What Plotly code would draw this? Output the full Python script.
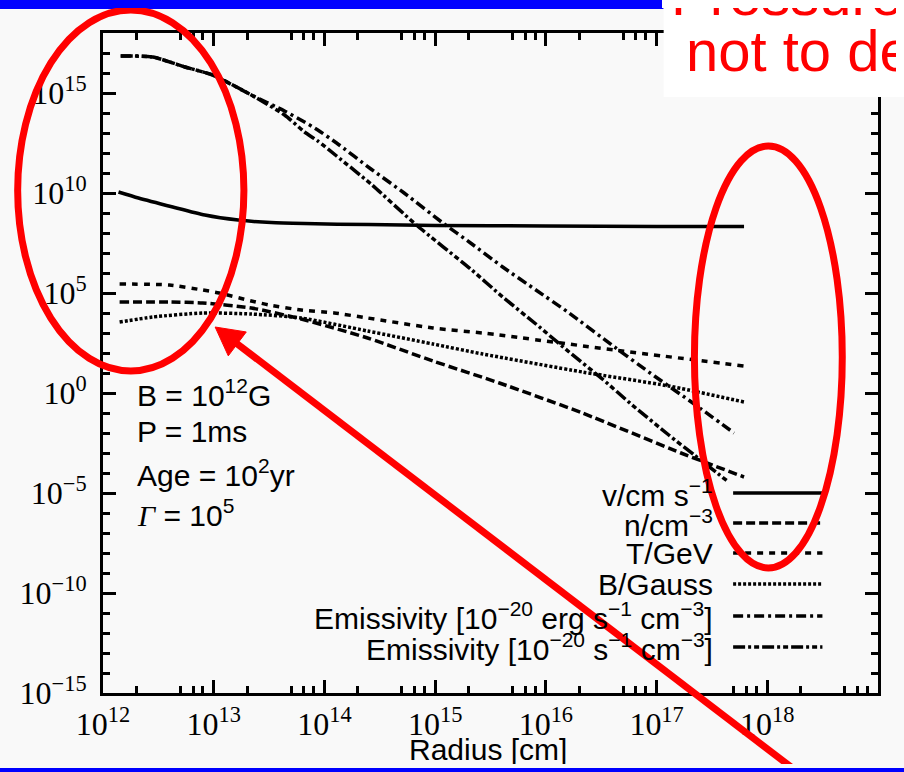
import numpy as np
import plotly.graph_objects as go

# ---------------- data (log10 values) ----------------
v_logr = [12.14, 12.32, 12.63, 12.92, 13.22, 13.52, 13.82, 14.4, 15.0, 16.0, 17.0, 17.79]
v_logy = [10.05, 9.75, 9.3, 8.9, 8.65, 8.52, 8.47, 8.42, 8.38, 8.35, 8.33, 8.33]

n_logr = [12.15, 12.6, 12.9, 13.34, 13.79, 14.39, 14.98, 15.58, 16.33, 17.22, 17.79]
n_logy = [4.55, 4.55, 4.5, 4.25, 3.7, 2.75, 1.6, 0.5, -1.0, -3.0, -4.2]

T_logr = [12.15, 12.6, 12.9, 13.05, 13.34, 13.5, 13.79, 14.09, 14.39, 14.98, 15.43, 15.58, 16.62, 17.79]
T_logy = [5.45, 5.4, 5.15, 5.0, 4.6, 4.4, 4.15, 4.0, 3.75, 3.25, 3.0, 2.9, 2.15, 1.35]

B_logr = [12.15, 12.45, 12.9, 13.34, 13.79, 14.39, 14.98, 15.43, 16.33, 17.11, 17.79]
B_logy = [3.55, 3.8, 4.0, 3.95, 3.75, 3.1, 2.45, 1.95, 1.05, 0.35, -0.45]

em_erg_logr = [12.16, 12.45, 12.74, 12.99, 13.34, 13.64, 13.82, 13.94, 14.11, 14.42, 14.72,
               15.07, 15.32, 15.61, 15.91, 16.21, 16.62, 16.98, 17.34, 17.7]
em_erg_logy = [16.85, 16.8, 16.3, 15.9, 14.9, 14.1, 13.55, 13.15, 12.5, 11.2, 10.0,
               8.5, 7.5, 6.3, 5.15, 4.0, 2.3, 0.85, -0.55, -2.0]

em_s_logr = [12.16, 12.45, 12.74, 12.99, 13.34, 13.64, 13.82, 13.94, 14.11, 14.42, 14.83,
             15.32, 15.61, 15.91, 16.21, 16.51, 16.78, 17.11, 17.34, 17.65]
em_s_logy = [16.85, 16.8, 16.3, 15.9, 14.9, 13.9, 13.05, 12.6, 11.85, 10.45, 8.4,
             6.2, 4.8, 3.45, 2.05, 0.7, -0.6, -2.1, -3.1, -4.45]

x_tick_exp = [12, 13, 14, 15, 16, 17, 18, 19]
y_tick_exp = [-15, -10, -5, 0, 5, 10, 15]

legend_labels = ["v/cm s<sup>−1</sup>", "n/cm<sup>−3</sup>", "T/GeV", "B/Gauss",
                 "Emissivity [10<sup>−20</sup> erg s<sup>−1</sup> cm<sup>−3</sup>]",
                 "Emissivity [10<sup>−20</sup> s<sup>−1</sup> cm<sup>−3</sup>]"]
legend_dashes = ["solid", "9px,4px", "6px,6px", "3px,2px", "10px,4px,3px,4px", "12px,3px,3px,3px,5px,3px"]

param_lines = ["B = 10<sup>12</sup>G", "P = 1ms", "Age = 10<sup>2</sup>yr",
               "<span style='font-family:Liberation Serif'><i>Γ</i></span> = 10<sup>5</sup>"]

# ---------------- layout geometry ----------------
# The page keeps the browser's 8px body margin, so the figure is 16px smaller than
# the 904x772 window and everything fits without overflow.  Design pixel positions
# below refer to the whole 904x772 window.
WIN_W, WIN_H, OFF = 904, 772, 8
FIG_W, FIG_H = WIN_W - 2 * OFF, WIN_H - 2 * OFF          # 888 x 756
PL, PR, PT, PB = 97, 878, 33, 693                        # plot area in window pixels
ML, MT = PL - OFF, PT - OFF
MR, MB = (OFF + FIG_W) - PR, (OFF + FIG_H) - PB
PW, PH = PR - PL, PB - PT


def X(p):
    return (p - PL) / PW


def Y(p):
    return (PB - p) / PH


SANS = "Liberation Sans, Arial, sans-serif"
SERIF = "Liberation Serif, Times New Roman, serif"

fig = go.Figure()

series = [
    (v_logr, v_logy, legend_dashes[0], "v"),
    (n_logr, n_logy, legend_dashes[1], "n"),
    (T_logr, T_logy, legend_dashes[2], "T"),
    (B_logr, B_logy, legend_dashes[3], "B"),
    (em_erg_logr, em_erg_logy, legend_dashes[4], "Emissivity erg"),
    (em_s_logr, em_s_logy, legend_dashes[5], "Emissivity s"),
]
for lr, ly, dash, name in series:
    fig.add_trace(go.Scatter(
        x=10 ** np.array(lr, dtype=float), y=10 ** np.array(ly, dtype=float),
        mode="lines", name=name, showlegend=False, hoverinfo="skip",
        line=dict(color="black", width=3.5, dash=dash, shape="spline", smoothing=0.6),
    ))

x_minor = [m * 10.0 ** d for d in range(12, 19) for m in (2, 5, 6.5, 8)]
y_minor = [10.0 ** d for d in range(-15, 18) if d % 5 != 0]

axis_common = dict(
    type="log", showgrid=False, zeroline=False, showline=True, linecolor="black",
    linewidth=3, mirror="allticks", ticks="inside", ticklen=13, tickwidth=3,
    tickcolor="black", tickfont=dict(family=SERIF, size=32, color="black"),
)

fig.update_xaxes(
    **axis_common, range=[12, 19],
    tickvals=[10.0 ** e for e in x_tick_exp],
    ticktext=[f"10<sup>{e}</sup>" for e in x_tick_exp],
    minor=dict(ticks="inside", ticklen=7, tickwidth=2.5, tickcolor="black", tickvals=x_minor),
    ticklabelstandoff=1,
)
fig.update_yaxes(
    **axis_common, range=[-15, 18],
    tickvals=[10.0 ** e for e in y_tick_exp],
    ticktext=[f"10<sup>{str(e).replace('-', '−')}</sup>" for e in y_tick_exp],
    minor=dict(ticks="inside", ticklen=7, tickwidth=2.5, tickcolor="black", tickvals=y_minor),
    ticklabelstandoff=7,
)

shapes = []
annotations = []

# slide decorations (parts inside the figure; the 8px page frame is painted by CSS)
shapes.append(dict(type="rect", xref="paper", yref="paper", x0=X(0), x1=X(662), y0=Y(9), y1=Y(0),
                   fillcolor="#0000ff", line=dict(width=0), layer="above"))
shapes.append(dict(type="rect", xref="paper", yref="paper", x0=X(0), x1=X(904), y0=Y(772), y1=Y(768),
                   fillcolor="#0000ff", line=dict(width=0), layer="above"))
shapes.append(dict(type="rect", xref="paper", yref="paper", x0=X(662), x1=X(904), y0=Y(97), y1=Y(0),
                   fillcolor="white", line=dict(width=0), layer="above"))

# legend (text left, sample right)
leg_rows = [493, 523, 553, 584, 616, 647]
for lab, dash, yy in zip(legend_labels, legend_dashes, leg_rows):
    annotations.append(dict(text=lab, xref="paper", yref="paper", x=X(714), y=Y(yy),
                            xanchor="right", yanchor="middle", showarrow=False,
                            font=dict(family=SANS, size=30, color="black")))
    shapes.append(dict(type="line", xref="paper", yref="paper", x0=X(732), x1=X(822), y0=Y(yy), y1=Y(yy),
                       line=dict(color="black", width=3.5, dash=dash)))

# parameter text
for lab, yy in zip(param_lines, [393, 432, 473, 513]):
    annotations.append(dict(text=lab, xref="paper", yref="paper", x=X(129), y=Y(yy),
                            xanchor="left", yanchor="middle", showarrow=False,
                            font=dict(family=SANS, size=30, color="black")))

# axis title
annotations.append(dict(text="Radius [cm]", xref="paper", yref="paper", x=X(485), y=Y(749),
                        xanchor="center", yanchor="middle", showarrow=False,
                        font=dict(family=SANS, size=30, color="black")))

# red overlay: ellipses and arrow
shapes.append(dict(type="circle", xref="paper", yref="paper", x0=X(11), x1=X(239), y0=Y(371), y1=Y(10),
                   line=dict(color="#ff0000", width=7), layer="above"))
shapes.append(dict(type="circle", xref="paper", yref="paper", x0=X(693), x1=X(842), y0=Y(568), y1=Y(146),
                   line=dict(color="#ff0000", width=7), layer="above"))

tip = np.array([210.0, 327.0])
tail = np.array([797.0, 772.0])
u = (tail - tip) / np.linalg.norm(tail - tip)
perp = np.array([-u[1], u[0]])
L, w = 28.0, 15.0
base = tip + L * u
c1, c2 = base + w * perp, base - w * perp
shapes.append(dict(type="line", xref="paper", yref="paper", x0=X(base[0] - 2 * u[0]), y0=Y(base[1] - 2 * u[1]),
                   x1=X(tail[0]), y1=Y(tail[1]), line=dict(color="#ff0000", width=7), layer="above"))
path = (f"M {X(tip[0])},{Y(tip[1])} L {X(c1[0])},{Y(c1[1])} L {X(c2[0])},{Y(c2[1])} Z")
shapes.append(dict(type="path", xref="paper", yref="paper", path=path,
                   fillcolor="#ff0000", line=dict(color="#ff0000", width=1), layer="above"))

# red slide text
annotations.append(dict(text="Pressure", xref="paper", yref="paper", x=X(667), y=Y(-6),
                        xanchor="left", yanchor="middle", showarrow=False,
                        font=dict(family=SANS, size=58, color="#ff0000")))
annotations.append(dict(text="not to dep", xref="paper", yref="paper", x=X(682), y=Y(50),
                        xanchor="left", yanchor="middle", showarrow=False,
                        font=dict(family=SANS, size=58, color="#ff0000")))

fig.update_layout(
    width=FIG_W, height=FIG_H, autosize=False,
    margin=dict(l=ML, r=MR, t=MT, b=MB, pad=0),
    paper_bgcolor="#f9f9f9", plot_bgcolor="#f9f9f9",
    showlegend=False, shapes=shapes, annotations=annotations,
)

# paint the 8px page frame like the slide (blue bars, white text box, grey page); paint only
post = (
    "document.body.style.background="
    "'linear-gradient(#0000ff,#0000ff) 0px 0px/662px 9px no-repeat,"
    "linear-gradient(#ffffff,#ffffff) 662px 0px/242px 97px no-repeat,"
    "linear-gradient(#0000ff,#0000ff) 0px 768px/904px 4px no-repeat,"
    "#f9f9f9';"
)

fig.write_html(
    "out.html",
    config={"responsive": False, "displayModeBar": False},
    post_script=post,
)
